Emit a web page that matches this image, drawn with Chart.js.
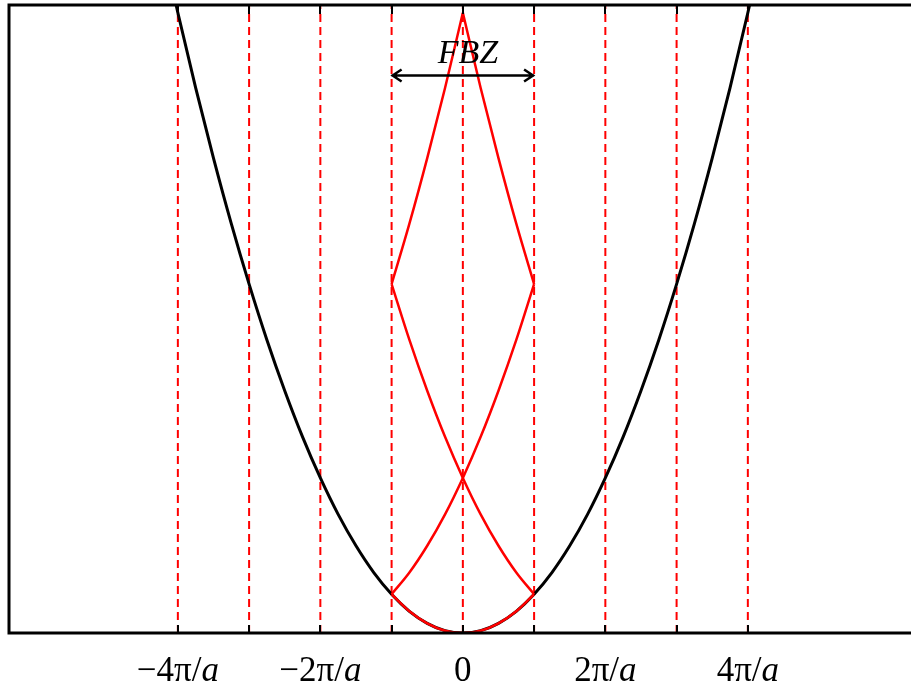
<!DOCTYPE html>
<html lang="en">
<head>
    <meta charset="UTF-8">
    <title>Empty lattice bands</title>
    <script src="https://cdn.jsdelivr.net/npm/chart.js"></script>
    <style>
        body {
            margin: 0;
            padding: 0;
            background-color: #fff;
            overflow: hidden;
        }
        .wrap {
            width: 911px;
            height: 688px;
        }
    </style>
</head>
<body>
    <div class="wrap">
        <canvas id="bandChart" width="911" height="688"></canvas>
    </div>

    <script>
        // wave vector k in units of pi/a
        const parabolaK = [-4.25, -4, -3.75, -3.5, -3.25, -3, -2.75, -2.5, -2.25, -2, -1.75, -1.5, -1.25, -1,
            -0.75, -0.5, -0.25, 0, 0.25, 0.5, 0.75, 1, 1.25, 1.5, 1.75, 2, 2.25, 2.5, 2.75, 3, 3.25, 3.5,
            3.75, 4, 4.25];
        const parabolaE = [18.06, 16, 14.06, 12.25, 10.56, 9, 7.56, 6.25, 5.06, 4, 3.06, 2.25, 1.56, 1,
            0.56, 0.25, 0.06, 0, 0.06, 0.25, 0.56, 1, 1.56, 2.25, 3.06, 4, 5.06, 6.25, 7.56, 9, 10.56, 12.25,
            14.06, 16, 18.06];

        // folded bands inside the first zone
        const zoneK = [-1, -0.75, -0.5, -0.25, 0, 0.25, 0.5, 0.75, 1];
        const band1E = [1, 0.56, 0.25, 0.06, 0, 0.06, 0.25, 0.56, 1];
        const band2aE = [1, 1.56, 2.25, 3.06, 4, 5.06, 6.25, 7.56, 9];
        const band2bE = [9, 7.56, 6.25, 5.06, 4, 3.06, 2.25, 1.56, 1];
        const halfLeftK = [-1, -0.75, -0.5, -0.25, 0];
        const band3aE = [9, 10.56, 12.25, 14.06, 16];
        const halfRightK = [0, 0.25, 0.5, 0.75, 1];
        const band3bE = [16, 14.06, 12.25, 10.56, 9];

        const zoneLines = [-4, -3, -2, -1, 0, 1, 2, 3, 4];
        const labelValues = [-4, -2, 0, 2, 4];
        const labelTexts = ['\u22124\u03c0/a', '\u22122\u03c0/a', '0', '2\u03c0/a', '4\u03c0/a'];
        const fbzRange = [-1, 1];

        const yMax = 16.2;
        const arrowE = 14.4;
        const serif = '"Liberation Serif", "DejaVu Serif", serif';

        function pts(xs, ys) {
            return xs.map((x, i) => ({ x: x, y: ys[i] }));
        }

        function redBand(xs, ys) {
            return {
                data: pts(xs, ys),
                borderColor: '#ff0000',
                borderWidth: 2.5,
                pointRadius: 0,
                showLine: true,
                cubicInterpolationMode: 'monotone',
                order: 1
            };
        }

        const datasets = [
            redBand(zoneK, band1E),
            redBand(zoneK, band2aE),
            redBand(zoneK, band2bE),
            redBand(halfLeftK, band3aE),
            redBand(halfRightK, band3bE),
            {
                data: pts(parabolaK, parabolaE),
                borderColor: '#000',
                borderWidth: 3,
                pointRadius: 0,
                showLine: true,
                cubicInterpolationMode: 'monotone',
                order: 2
            }
        ];

        // dashed zone boundaries
        zoneLines.forEach(k => {
            datasets.push({
                data: [{ x: k, y: 0 }, { x: k, y: yMax }],
                borderColor: '#ff0000',
                borderWidth: 2,
                borderDash: [8, 5],
                pointRadius: 0,
                showLine: true,
                order: 3
            });
        });

        const framePlugin = {
            id: 'frame',
            afterDraw(chart) {
                const ctx = chart.ctx;
                const area = chart.chartArea;
                const xs = chart.scales.x;
                const ys = chart.scales.y;
                ctx.save();

                // frame (right edge falls outside the picture)
                ctx.strokeStyle = '#000';
                ctx.lineWidth = 3;
                ctx.beginPath();
                ctx.moveTo(chart.width + 2, area.top);
                ctx.lineTo(area.left, area.top);
                ctx.lineTo(area.left, area.bottom);
                ctx.lineTo(chart.width + 2, area.bottom);
                ctx.stroke();

                // inward ticks
                ctx.lineWidth = 2;
                zoneLines.forEach(k => {
                    const px = Math.round(xs.getPixelForValue(k));
                    ctx.beginPath();
                    ctx.moveTo(px, area.bottom);
                    ctx.lineTo(px, area.bottom - 8);
                    ctx.moveTo(px, area.top);
                    ctx.lineTo(px, area.top + 9);
                    ctx.stroke();
                });

                // tick labels, the trailing "a" in italic
                ctx.fillStyle = '#000';
                ctx.textBaseline = 'alphabetic';
                ctx.textAlign = 'left';
                labelValues.forEach((v, i) => {
                    const txt = labelTexts[i];
                    let head = txt, tail = '';
                    if (txt.endsWith('a')) {
                        head = txt.slice(0, -1);
                        tail = 'a';
                    }
                    ctx.font = '35px ' + serif;
                    const w1 = ctx.measureText(head).width;
                    ctx.font = 'italic 35px ' + serif;
                    const w2 = tail ? ctx.measureText(tail).width : 0;
                    let px = xs.getPixelForValue(v) - (w1 + w2) / 2;
                    ctx.font = '35px ' + serif;
                    ctx.fillText(head, px, 681);
                    if (tail) {
                        ctx.font = 'italic 35px ' + serif;
                        ctx.fillText(tail, px + w1, 681);
                    }
                });

                // FBZ arrow
                const x1 = xs.getPixelForValue(fbzRange[0]);
                const x2 = xs.getPixelForValue(fbzRange[1]);
                const ay = Math.round(ys.getPixelForValue(arrowE)) + 0.5;
                ctx.lineWidth = 2.5;
                ctx.beginPath();
                ctx.moveTo(x1, ay);
                ctx.lineTo(x2, ay);
                ctx.moveTo(x1 + 10, ay - 6);
                ctx.lineTo(x1 + 1, ay);
                ctx.lineTo(x1 + 10, ay + 6);
                ctx.moveTo(x2 - 10, ay - 6);
                ctx.lineTo(x2 - 1, ay);
                ctx.lineTo(x2 - 10, ay + 6);
                ctx.stroke();

                ctx.font = 'italic 34px ' + serif;
                ctx.textAlign = 'center';
                ctx.fillText('FBZ', (x1 + x2) / 2 + 5, ay - 13);
                ctx.restore();
            }
        };

        new Chart(document.getElementById('bandChart'), {
            type: 'scatter',
            data: { datasets: datasets },
            options: {
                responsive: false,
                animation: false,
                layout: { padding: { left: 9, top: 5, right: 0, bottom: 55 } },
                plugins: { legend: { display: false }, tooltip: { enabled: false } },
                scales: {
                    x: { type: 'linear', min: -6.37, max: 6.29, display: false },
                    y: { type: 'linear', min: 0, max: yMax, display: false }
                }
            },
            plugins: [framePlugin]
        });
    </script>
</body>
</html>
